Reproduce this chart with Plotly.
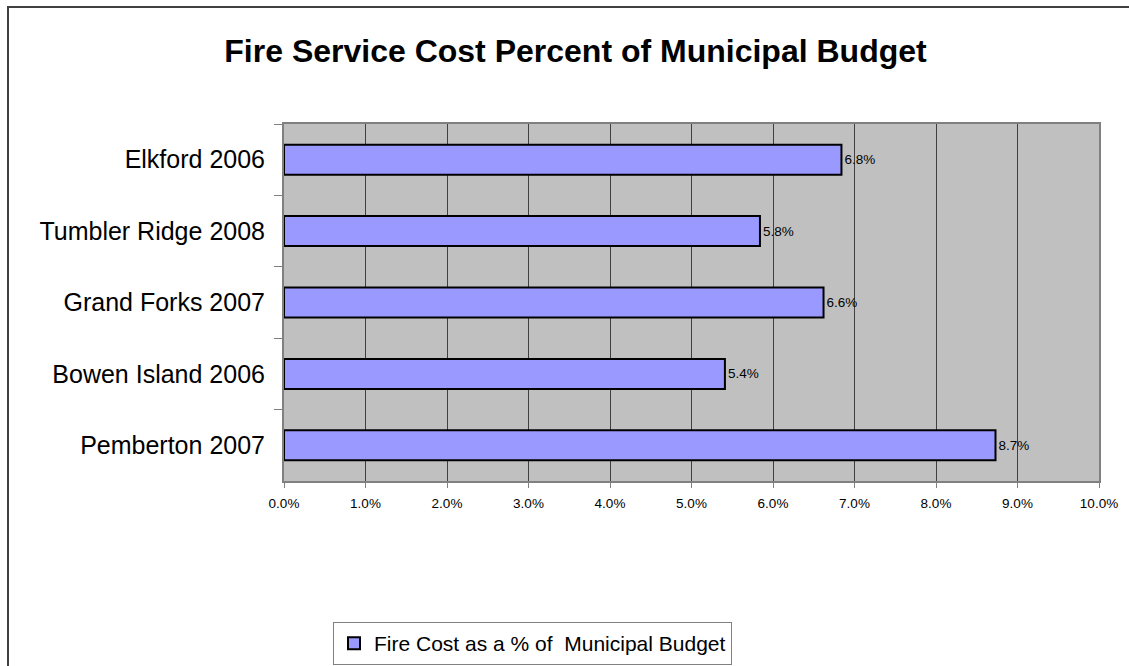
import plotly.graph_objects as go

# Fire service cost as a share of each municipality's budget
municipalities = ["Elkford 2006", "Tumbler Ridge 2008", "Grand Forks 2007",
                  "Bowen Island 2006", "Pemberton 2007"]
fire_cost_share = [0.0684, 0.0584, 0.0662, 0.0541, 0.0873]
x_ticks = [i / 100 for i in range(0, 11)]
x_tick_labels = [f"{i}.0%" for i in range(0, 11)]
series_name = "Fire Cost as a % of  Municipal Budget"
chart_title = "Fire Service Cost Percent of Municipal Budget"

FONT = "Liberation Sans, Arial, sans-serif"

fig = go.Figure()
fig.add_trace(go.Bar(
    y=municipalities,
    x=fire_cost_share,
    orientation="h",
    name=series_name,
    width=0.42,
    marker=dict(color="#9999FF", line=dict(color="#000000", width=2)),
    texttemplate="%{x:.1%}",
    textposition="outside",
    textfont=dict(family=FONT, size=13.5, color="#000000"),
    cliponaxis=False,
    showlegend=True,
))

fig.update_layout(
    width=1129,
    height=666,
    margin=dict(l=284, r=30, t=124, b=185, autoexpand=False),
    paper_bgcolor="#FFFFFF",
    plot_bgcolor="#C0C0C0",
    font=dict(family=FONT, color="#000000"),
    title=dict(
        text=chart_title,
        x=575.5 / 1129, xanchor="center",
        y=1 - 51 / 666, yanchor="middle",
        xref="container", yref="container",
        font=dict(family=FONT, size=32, color="#000000", weight="bold"),
    ),
    xaxis=dict(
        range=[0, 0.10],
        tickvals=x_ticks,
        ticktext=x_tick_labels,
        automargin=False,
        showgrid=True,
        gridcolor="#404040",
        gridwidth=1,
        zeroline=False,
        showline=True,
        linecolor="#808080",
        linewidth=2,
        mirror=True,
        ticks="outside",
        ticklen=5,
        tickcolor="#808080",
        tickfont=dict(family=FONT, size=13.5, color="#000000"),
        ticklabelstandoff=4,
    ),
    yaxis=dict(
        categoryorder="array",
        categoryarray=municipalities,
        autorange="reversed",
        automargin=False,
        showgrid=False,
        zeroline=False,
        showline=True,
        linecolor="#808080",
        linewidth=2,
        mirror=True,
        ticks="outside",
        tickson="boundaries",
        ticklen=8,
        tickcolor="#808080",
        tickfont=dict(family=FONT, size=25, color="#000000"),
        ticklabelstandoff=12,
    ),
    legend=dict(
        x=(333 - 284) / 815, xanchor="left",
        y=(481 - 622) / 357, yanchor="top",
        xref="paper", yref="paper",
        bgcolor="#FFFFFF",
        bordercolor="#808080",
        borderwidth=1,
        font=dict(family=FONT, size=21, color="#000000"),
        itemwidth=30,
    ),
)

# Outer chart frame (left and top edges fall inside the page)
fig.add_shape(
    type="rect", xref="paper", yref="paper",
    x0=(8 - 284) / 815, x1=(1140 - 284) / 815,
    y0=(481 - 680) / 357, y1=(481 - 7) / 357,
    line=dict(color="#404040", width=2),
    fillcolor="rgba(0,0,0,0)",
    layer="below",
)

fig.write_html("out.html")
